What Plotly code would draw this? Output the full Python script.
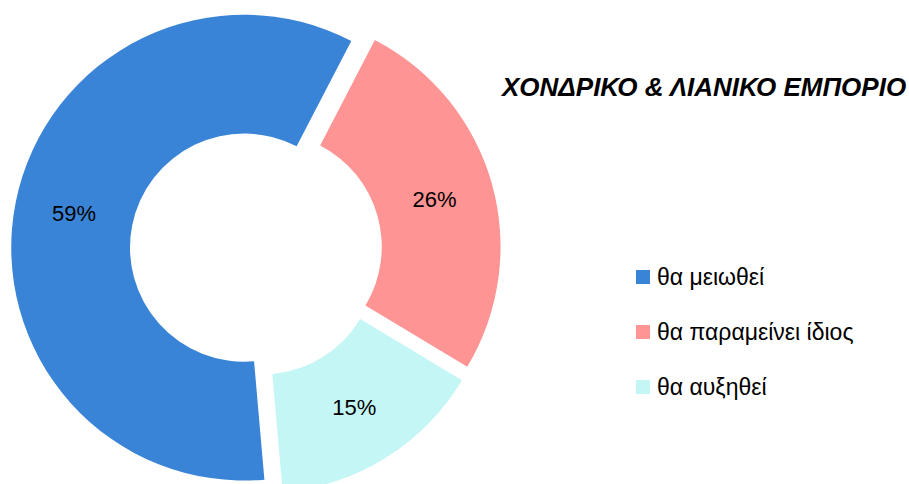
import plotly.graph_objects as go

# Survey answers for wholesale & retail trade
categories = ["θα μειωθεί", "θα παραμείνει ίδιος", "θα αυξηθεί"]
shares = [59, 26, 15]
colors = ["#3a84d7", "#ff9494", "#c4f6f5"]
title_text = "ΧΟΝΔΡΙΚΟ & ΛΙΑΝΙΚΟ ΕΜΠΟΡΙΟ"

W, H = 909, 500
M_T, M_B = 5, 5
PLOT_H = H - M_T - M_B
FONT = "Liberation Sans, Arial, sans-serif"


def px_x(x):
    return x / W


def px_y(y):
    return 1 - (y - M_T) / PLOT_H


fig = go.Figure(
    go.Pie(
        labels=categories,
        values=shares,
        sort=False,
        direction="clockwise",
        rotation=175,
        hole=0.49,
        pull=0.052,
        marker=dict(colors=colors, line=dict(width=0)),
        textinfo="percent",
        textposition="inside",
        insidetextorientation="horizontal",
        textfont=dict(family=FONT, size=22, color="black"),
        domain=dict(x=[0, 512 / W], y=[0, 1]),
        showlegend=False,
        hoverinfo="label+percent",
    )
)

# Legend: coloured squares with the category names
shapes = []
annotations = []
for i, (cat, col) in enumerate(zip(categories, colors)):
    yc = 277 + i * 55
    shapes.append(
        dict(
            type="rect", xref="paper", yref="paper",
            x0=px_x(636), x1=px_x(650), y0=px_y(yc + 7), y1=px_y(yc - 7),
            fillcolor=col, line=dict(width=0),
        )
    )
    annotations.append(
        dict(
            text=cat, xref="paper", yref="paper", x=px_x(655), y=px_y(yc),
            xanchor="left", yanchor="middle", showarrow=False,
            font=dict(family=FONT, size=23, color="black"),
        )
    )

# Chart title
annotations.append(
    dict(
        text=f"<b><i>{title_text}</i></b>", xref="paper", yref="paper",
        x=px_x(703), y=px_y(87), xanchor="center", yanchor="middle", showarrow=False,
        font=dict(family=FONT, size=26, color="black"),
    )
)

fig.update_layout(
    width=W, height=H,
    margin=dict(l=0, r=0, t=M_T, b=M_B, pad=0),
    paper_bgcolor="white", plot_bgcolor="white",
    shapes=shapes, annotations=annotations,
    showlegend=False,
)

fig.write_html(
    "out.html",
    config={"displayModeBar": False},
    post_script="document.documentElement.style.overflow='hidden';document.body.style.overflow='hidden';",
)
